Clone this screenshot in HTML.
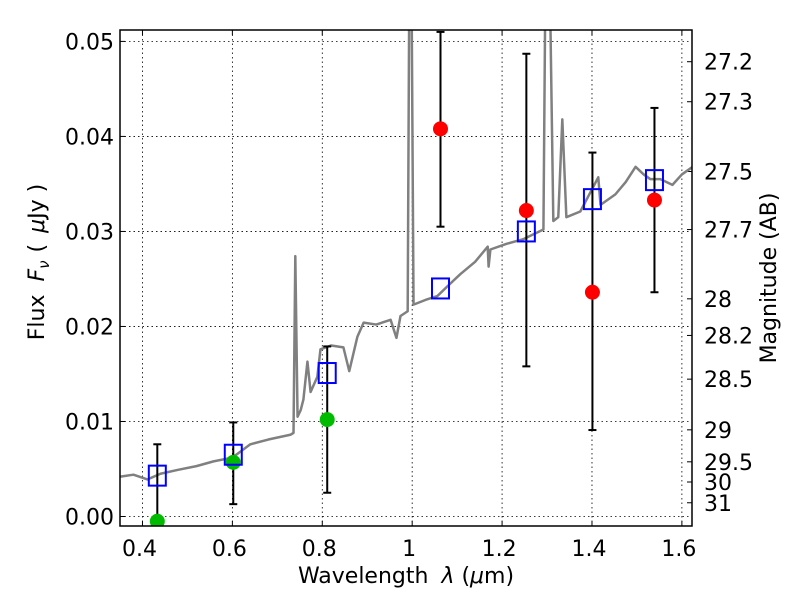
<!DOCTYPE html>
<html><head><meta charset="utf-8"><style>
html,body{margin:0;padding:0;background:#fff}
svg{display:block;font-family:"DejaVu Sans","Liberation Sans",sans-serif}
</style></head><body>
<svg id="c" width="800" height="600"></svg>
<script>
const specLam=[0.351,0.38,0.411,0.44,0.478,0.52,0.558,0.60,0.640,0.68,0.729,0.736,0.740,0.745,0.752,0.758,0.767,0.774,0.789,0.796,0.82,0.847,0.860,0.878,0.892,0.92,0.952,0.965,0.974,0.990,0.994,0.998,1.003,1.03,1.056,1.08,1.107,1.14,1.168,1.170,1.174,1.21,1.248,1.292,1.297,1.305,1.314,1.325,1.334,1.343,1.374,1.414,1.419,1.452,1.475,1.497,1.515,1.530,1.552,1.579,1.60,1.624];
const specFlux=[0.0042,0.0044,0.0039,0.0045,0.0049,0.0053,0.0058,0.0062,0.0076,0.0081,0.0086,0.0088,0.0274,0.0105,0.0112,0.0123,0.0163,0.0131,0.0147,0.0176,0.0180,0.0178,0.0153,0.0189,0.0204,0.0202,0.0207,0.0188,0.0211,0.0216,0.06,0.06,0.0223,0.0228,0.0232,0.0243,0.0255,0.0268,0.0284,0.0263,0.0281,0.0287,0.0292,0.0302,0.06,0.06,0.0311,0.0315,0.0418,0.0315,0.0321,0.0357,0.0328,0.0339,0.0352,0.0368,0.0360,0.0355,0.0355,0.0349,0.0360,0.0368];
const bandLam=[0.433,0.602,0.811,1.063,1.254,1.401,1.539];
const modelFlux=[0.0043,0.0065,0.0151,0.0240,0.0300,0.0334,0.0354];
const errLo=[0.0,0.0013,0.0025,0.0305,0.0158,0.0091,0.0236];
const errHi=[0.0076,0.0099,0.0179,0.051,0.0487,0.0383,0.043];
const greenLam=[0.433,0.602,0.811];
const greenFlux=[-0.0005,0.0057,0.0102];
const redLam=[1.063,1.254,1.401,1.539];
const redFlux=[0.0408,0.0322,0.0236,0.0333];
const xTicks=[0.4,0.6,0.8,1.0,1.2,1.4,1.6];
const xTickLabels=["0.4","0.6","0.8","1","1.2","1.4","1.6"];
const yTicks=[0,0.01,0.02,0.03,0.04,0.05];
const yTickLabels=["0.00","0.01","0.02","0.03","0.04","0.05"];
const magTicks=[27.2,27.3,27.5,27.7,28,28.2,28.5,29,29.5,30,31];

const L=120,R=692,T=30,B=526;
const X0=0.35,X1=1.6225,Y0=-0.001,Y1=0.0512;
const sx=v=>L+(v-X0)/(X1-X0)*(R-L);
const sy=v=>B-(v-Y0)/(Y1-Y0)*(B-T);
const NS="http://www.w3.org/2000/svg";
const svg=document.getElementById('c');
function mk(t,a,p){const e=document.createElementNS(NS,t);for(const k in a)e.setAttribute(k,a[k]);(p||svg).appendChild(e);return e;}
const defs=mk('defs',{});const cp=mk('clipPath',{id:'cp'},defs);mk('rect',{x:L,y:T,width:R-L,height:B-T},cp);

xTicks.forEach((v,i)=>{
 const g=mk('line',{x1:sx(v),x2:sx(v),y1:T,y2:B,stroke:'#000','stroke-width':0.8,'stroke-dasharray':'1.5,3'});
 
 
 mk('line',{x1:sx(v),x2:sx(v),y1:B,y2:B-5,stroke:'#000'});
 mk('line',{x1:sx(v),x2:sx(v),y1:T,y2:T+5,stroke:'#000'});
 const t=mk('text',{x:sx(v)-3,y:B+30,'text-anchor':'middle','font-size':22});t.textContent=xTickLabels[i];
 
 
});
yTicks.forEach((v,i)=>{
 const g=mk('line',{x1:L,x2:R,y1:sy(v),y2:sy(v),stroke:'#000','stroke-width':0.8,'stroke-dasharray':'1.5,3'});
 
 
 mk('line',{x1:L,x2:L+5,y1:sy(v),y2:sy(v),stroke:'#000'});
 const t=mk('text',{x:L-6,y:sy(v)+8,'text-anchor':'end','font-size':22});t.textContent=yTickLabels[i];
 
 
});
magTicks.forEach(m=>{
 const f=Math.pow(10,(23.9-m)/2.5);
 mk('line',{x1:R,x2:R-5,y1:sy(f),y2:sy(f),stroke:'#000'});
 const t=mk('text',{x:R+12,y:sy(f)+8,'font-size':22});t.textContent=String(m);
 
 
});

const g=mk('g',{'clip-path':'url(#cp)'});
const sp=mk('polyline',{points:specLam.map((l,i)=>sx(l)+','+sy(specFlux[i])).join(' '),fill:'none',stroke:'#808080','stroke-width':2.5,'stroke-linejoin':'round'},g);



bandLam.forEach((l,i)=>{
 const e=mk('g',{},g);
 
 
 const x=sx(l);
 mk('line',{x1:x,x2:x,y1:sy(errLo[i]),y2:sy(errHi[i]),stroke:'#000','stroke-width':2},e);
 mk('line',{x1:x-4,x2:x+4,y1:sy(errLo[i]),y2:sy(errLo[i]),stroke:'#000','stroke-width':2},e);
 mk('line',{x1:x-4,x2:x+4,y1:sy(errHi[i]),y2:sy(errHi[i]),stroke:'#000','stroke-width':2},e);
});
greenLam.forEach((l,i)=>{
 const c=mk('circle',{cx:sx(l),cy:sy(greenFlux[i]),r:7.5,fill:'#00bb00'},g);
 
 
});
redLam.forEach((l,i)=>{
 const c=mk('circle',{cx:sx(l),cy:sy(redFlux[i]),r:7.5,fill:'#ff0000'},g);
 
 
});
bandLam.forEach((l,i)=>{
 const r=mk('rect',{x:sx(l)-8.5,y:sy(modelFlux[i])-10,width:17,height:20,fill:'none',stroke:'#0000ff','stroke-width':2},g);
 
 
});

const fr=mk('rect',{x:L,y:T,width:R-L,height:B-T,fill:'none',stroke:'#000','stroke-width':1.5});



const xl=mk('text',{x:406,y:583,'text-anchor':'middle','font-size':22});
xl.innerHTML='Wavelength <tspan dx="6" font-style="italic">λ</tspan> (<tspan font-style="italic">μ</tspan>m)';


const yl=mk('text',{x:0,y:0,'text-anchor':'middle','font-size':22,transform:'translate(44,262) rotate(-90)'});
yl.innerHTML='Flux <tspan dx="6" font-style="italic">F</tspan><tspan font-style="italic" font-size="15" dy="5">ν</tspan><tspan dy="-5" dx="8">( </tspan><tspan dx="4" font-style="italic">μ</tspan>Jy )';


const rl=mk('text',{x:0,y:0,'text-anchor':'middle','font-size':22,transform:'translate(776,278) rotate(-90)'});
rl.textContent='Magnitude (AB)';


</script>
</body></html>
